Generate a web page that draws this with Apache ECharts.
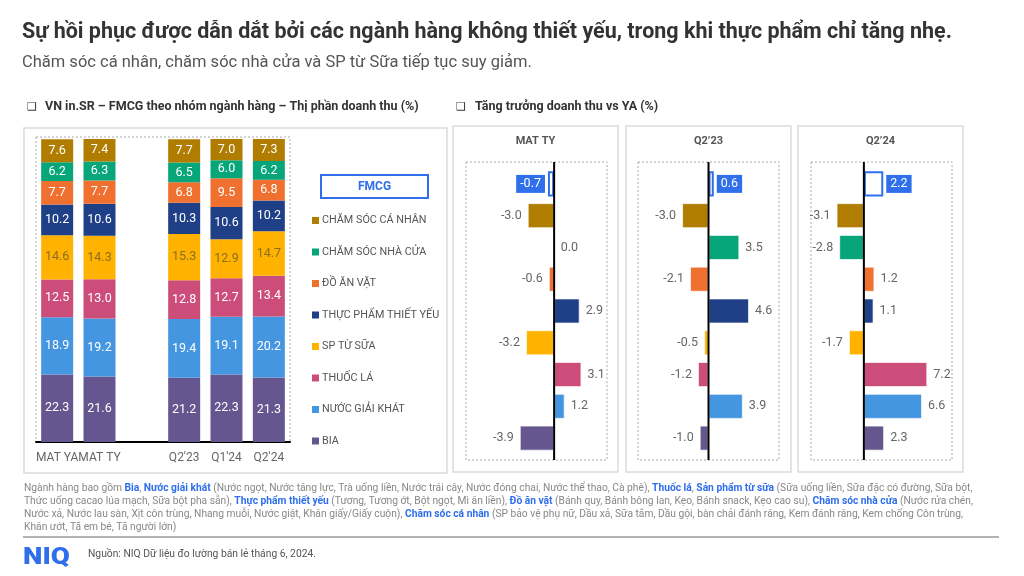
<!DOCTYPE html>
<html><head><meta charset="utf-8">
<script src="https://cdn.jsdelivr.net/npm/echarts@6/dist/echarts.min.js"></script>
<style>html,body{margin:0;padding:0;background:#fff}#c{width:1024px;height:576px}</style>
</head><body><div id="c"></div>
<script>
// ---- data ----
const shareCategories = ['MAT YA', 'MAT TY', '', "Q2'23", "Q1'24", "Q2'24"];
const segmentNames = ['BIA', 'NƯỚC GIẢI KHÁT', 'THUỐC LÁ', 'SP TỪ SỮA', 'THỰC PHẨM THIẾT YẾU', 'ĐỒ ĂN VẶT', 'CHĂM SÓC NHÀ CỬA', 'CHĂM SÓC CÁ NHÂN'];
const shareBia = [22.3, 21.6, null, 21.2, 22.3, 21.3];
const shareNuocGiaiKhat = [18.9, 19.2, null, 19.4, 19.1, 20.2];
const shareThuocLa = [12.5, 13.0, null, 12.8, 12.7, 13.4];
const shareSuSua = [14.6, 14.3, null, 15.3, 12.9, 14.7];
const shareThucPham = [10.2, 10.6, null, 10.3, 10.6, 10.2];
const shareAnVat = [7.7, 7.7, null, 6.8, 9.5, 6.8];
const shareNhaCua = [6.2, 6.3, null, 6.5, 6.0, 6.2];
const shareCaNhan = [7.6, 7.4, null, 7.7, 7.0, 7.3];

const growthCategories = ['FMCG', 'CHĂM SÓC CÁ NHÂN', 'CHĂM SÓC NHÀ CỬA', 'ĐỒ ĂN VẶT', 'THỰC PHẨM THIẾT YẾU', 'SP TỪ SỮA', 'THUỐC LÁ', 'NƯỚC GIẢI KHÁT', 'BIA'];
const growthMatTY = [-0.7, -3.0, 0.0, -0.6, 2.9, -3.2, 3.1, 1.2, -3.9];
const growthQ223 = [0.6, -3.0, 3.5, -2.1, 4.6, -0.5, -1.2, 3.9, -1.0];
const growthQ224 = [2.2, -3.1, -2.8, 1.2, 1.1, -1.7, 7.2, 6.6, 2.3];
const panelTitles = ['MAT TY', 'Q2’23', 'Q2’24'];
const panelMin = [-10, -8, -6];
const panelMax = [6, 8, 10];

// ---- styles ----
const FONT = 'Roboto, "Liberation Sans", sans-serif';
const segColors = ['#66568F', '#4596E0', '#CC4C7A', '#FFB300', '#1F3F87', '#F07030', '#06A67A', '#B07D00'];
const growthColors = ['#ffffff', '#B07D00', '#06A67A', '#F07030', '#1F3F87', '#FFB300', '#CC4C7A', '#4596E0', '#66568F'];
const BLUE = '#2F6FEB';
const panelLeft = [466, 638, 811];
const panelBoxLeft = [453, 626, 798];

const shareSeriesData = [shareBia, shareNuocGiaiKhat, shareThuocLa, shareSuSua, shareThucPham, shareAnVat, shareNhaCua, shareCaNhan];

const grids = [{ left: 36, top: 139, width: 254, height: 303 }];
const xAxes = [{
  type: 'category', gridIndex: 0, data: shareCategories,
  axisLine: { lineStyle: { color: '#000', width: 2 } }, axisTick: { show: false },
  axisLabel: { color: '#666', fontSize: 12, fontFamily: FONT, margin: 10, interval: 0 }
}];
const yAxes = [{ type: 'value', gridIndex: 0, min: 0, max: 100.1, show: false, splitLine: { show: false } }];
const series = [];

shareSeriesData.forEach((arr, i) => {
  series.push({
    type: 'bar', name: segmentNames[i], stack: 'share', xAxisIndex: 0, yAxisIndex: 0,
    barWidth: 32, data: arr,
    itemStyle: { color: segColors[i] },
    label: {
      show: true, position: 'inside', fontSize: 12.5, fontFamily: FONT,
      color: i === 3 ? '#8a6d22' : '#fff',
      formatter: p => p.value == null ? '' : p.value.toFixed(1)
    }
  });
});

[growthMatTY, growthQ223, growthQ224].forEach((arr, k) => {
  const gi = k + 1;
  grids.push({ left: panelLeft[k], top: 168, width: 141, height: 286 });
  xAxes.push({ type: 'value', gridIndex: gi, min: panelMin[k], max: panelMax[k], show: false, splitLine: { show: false } });
  yAxes.push({ type: 'category', gridIndex: gi, data: growthCategories, inverse: true, show: false });
  series.push({
    type: 'bar', xAxisIndex: gi, yAxisIndex: gi, barWidth: '79%',
    data: arr.map((v, j) => {
      const item = {
        value: v,
        itemStyle: { color: growthColors[j], borderColor: 'rgba(255,255,255,0.7)', borderWidth: 1 },
        label: { position: v < 0 ? 'left' : 'right' }
      };
      if (j === 0) {
        item.itemStyle = { color: '#fff', borderColor: BLUE, borderWidth: 2 };
        item.label = {
          position: v < 0 ? 'left' : 'right', distance: 3,
          backgroundColor: BLUE, color: '#fff', padding: [3, 4, 2, 4]
        };
      }
      return item;
    }),
    label: {
      show: true, fontSize: 12.5, fontFamily: FONT, color: '#666', distance: 6,
      formatter: p => p.value.toFixed(1)
    }
  });
});

const footerLines = [
  'Ngành hàng bao gồm {b|Bia}, {b|Nước giải khát} (Nước ngọt, Nước tăng lực, Trà uống liền, Nước trái cây, Nước đóng chai, Nước thể thao, Cà phê), {b|Thuốc lá}, {b|Sản phẩm từ sữa} (Sữa uống liền, Sữa đặc có đường, Sữa bột,',
  'Thức uống cacao lúa mạch, Sữa bột pha sẵn), {b|Thực phẩm thiết yếu} (Tương, Tương ớt, Bột ngọt, Mì ăn liền), {b|Đồ ăn vặt} (Bánh quy, Bánh bông lan, Kẹo, Bánh snack, Kẹo cao su), {b|Chăm sóc nhà cửa} (Nước rửa chén,',
  'Nước xả, Nước lau sàn, Xịt côn trùng, Nhang muỗi, Nước giặt, Khăn giấy/Giấy cuộn), {b|Chăm sóc cá nhân} (SP bảo vệ phụ nữ, Dầu xả, Sữa tắm, Dầu gội, bàn chải đánh răng, Kem đánh răng, Kem chống Côn trùng,',
  'Khăn ướt, Tã em bé, Tã người lớn)'
];

const graphics = [];
function txt(text, x, y, font, fill, align, extra, el) {
  graphics.push(Object.assign({ type: 'text', x, y, silent: true, style: Object.assign({ text, font, fill, align: align || 'left', verticalAlign: 'middle' }, extra || {}) }, el || {}));
}
txt('Sự hồi phục được dẫn dắt bởi các ngành hàng không thiết yếu, trong khi thực phẩm chỉ tăng nhẹ.', 22, 33, 'bold 21.5px ' + FONT, '#333');
txt('Chăm sóc cá nhân, chăm sóc nhà cửa và SP từ Sữa tiếp tục suy giảm.', 22, 63, '16.5px ' + FONT, '#555');
txt('❑', 27, 107, '11px "DejaVu Sans"', '#333');
txt('VN in.SR – FMCG theo nhóm ngành hàng – Thị phần doanh thu (%)', 45, 107, 'bold 12.5px ' + FONT, '#333');
txt('❑', 456, 107, '11px "DejaVu Sans"', '#333');
txt('Tăng trưởng doanh thu vs YA (%)', 475, 107, 'bold 12.5px ' + FONT, '#333');

// panel frames
graphics.push({ type: 'rect', silent: true, shape: { x: 24, y: 128, width: 423, height: 345 }, style: { fill: 'none', stroke: '#dcdcdc', lineWidth: 1.5 } });
graphics.push({ type: 'rect', silent: true, shape: { x: 36, y: 137, width: 254, height: 305 }, style: { fill: 'none', stroke: '#aaa', lineWidth: 1, lineDash: [2, 2] } });
graphics.push({ type: 'rect', silent: true, shape: { x: 321, y: 175, width: 107, height: 23 }, style: { fill: '#fff', stroke: BLUE, lineWidth: 2 } });
txt('FMCG', 374.5, 186.5, 'bold 12px ' + FONT, BLUE, 'center');
for (let k = 0; k < 3; k++) {
  graphics.push({ type: 'rect', silent: true, shape: { x: panelBoxLeft[k], y: 126, width: 165, height: 346 }, style: { fill: 'none', stroke: '#dcdcdc', lineWidth: 1.5 } });
  graphics.push({ type: 'rect', silent: true, shape: { x: panelLeft[k], y: 162, width: 141, height: 298 }, style: { fill: 'none', stroke: '#aaa', lineWidth: 1, lineDash: [2, 2] } });
  txt(panelTitles[k], panelBoxLeft[k] + 82.5, 141, 'bold 11px ' + FONT, '#555', 'center');
}
footerLines.forEach((l, i) => {
  txt(l, 24, 488 + i * 13, '10.25px ' + FONT, '#888', 'left', { rich: { b: { font: 'bold 10.25px ' + FONT, fill: BLUE } } });
});
graphics.push({ type: 'line', silent: true, shape: { x1: 23, y1: 537, x2: 999, y2: 537 }, style: { stroke: '#999', lineWidth: 1.5 } });
txt('NIQ', 23, 558, '900 23px ' + FONT, BLUE, 'left', null, { scaleX: 1.2 });
txt('Nguồn: NIQ Dữ liệu đo lường bán lẻ tháng 6, 2024.', 88, 554, '10.3px ' + FONT, '#555');

const chart = echarts.init(document.getElementById('c'), null, { renderer: 'canvas' });
chart.setOption({
  animation: false,
  backgroundColor: '#fff',
  textStyle: { fontFamily: FONT },
  grid: grids, xAxis: xAxes, yAxis: yAxes, series,
  legend: {
    data: segmentNames.slice().reverse(), orient: 'vertical', left: 307, top: 210,
    icon: 'rect', itemWidth: 7, itemHeight: 7, itemGap: 20.5,
    textStyle: { fontSize: 10.8, color: '#555', fontFamily: FONT, padding: [0, 0, 0, -2] }
  },
  graphic: graphics
});
// zero lines positioned from each panel's own value scale
const zeroLines = [];
for (let k = 0; k < 3; k++) {
  const x0 = chart.convertToPixel({ xAxisIndex: k + 1 }, 0);
  zeroLines.push({ type: 'line', silent: true, z: 10, shape: { x1: x0, y1: 162, x2: x0, y2: 460 }, style: { stroke: '#000', lineWidth: 2 } });
}
chart.setOption({ graphic: graphics.concat(zeroLines) });
</script>
</body></html>
